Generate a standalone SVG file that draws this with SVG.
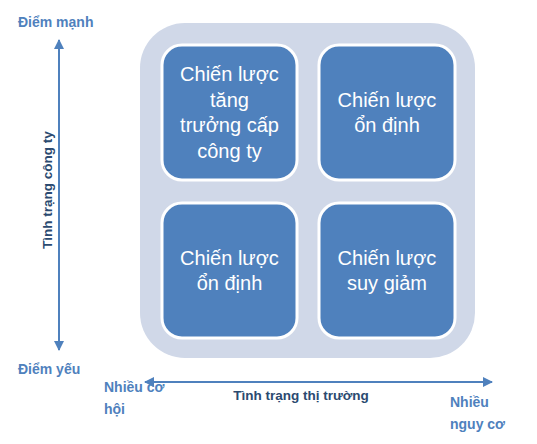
<svg xmlns="http://www.w3.org/2000/svg" width="537" height="444" viewBox="0 0 537 444">
<style>
.box{fill:#4F81BD;stroke:#FFFFFF;stroke-width:3}
.bt{font-family:"Liberation Sans",Arial,sans-serif;font-size:20px;fill:#FFFFFF;text-anchor:middle}
.lbl{font-family:"Liberation Sans",Arial,sans-serif;font-size:14px;font-weight:bold;fill:#4F81BD}
.ttl{font-family:"Liberation Sans",Arial,sans-serif;font-size:13.5px;font-weight:bold;fill:#2B4A70;text-anchor:middle}
.ax{stroke:#4F81BD;stroke-width:2;fill:none}
</style>
<defs>
<marker id="ah" viewBox="0 0 10 10" refX="9" refY="5" markerWidth="5" markerHeight="5" orient="auto-start-reverse" markerUnits="strokeWidth">
<path d="M0,0 L10,5 L0,10 z" fill="#4F81BD"/>
</marker>
</defs>
<rect width="537" height="444" fill="#FFFFFF"/>
<g id="background">
<rect x="140" y="23" width="335" height="335" rx="45" ry="45" fill="#D0D8E8"/>
</g>
<g id="connectors">
<line class="ax" x1="59" y1="350" x2="59" y2="40" marker-end="url(#ah)" marker-start="url(#ah)"/>
<line class="ax" x1="145" y1="382" x2="492" y2="382" marker-end="url(#ah)" marker-start="url(#ah)"/>
</g>
<g id="node-growth">
<rect class="box" x="162" y="45" width="135" height="135" rx="20" ry="20"/>
<text class="bt" x="229.5" y="81">Chiến lược</text>
<text class="bt" x="229.5" y="107">tăng</text>
<text class="bt" x="229.5" y="132">trưởng cấp</text>
<text class="bt" x="229.5" y="158">công ty</text>
</g>
<g id="node-stable-top">
<rect class="box" x="319" y="45" width="136" height="135" rx="20" ry="20"/>
<text class="bt" x="387" y="107">Chiến lược</text>
<text class="bt" x="387" y="132">ổn định</text>
</g>
<g id="node-stable-bottom">
<rect class="box" x="162" y="203" width="135" height="135" rx="20" ry="20"/>
<text class="bt" x="229.5" y="265">Chiến lược</text>
<text class="bt" x="229.5" y="290">ổn định</text>
</g>
<g id="node-decline">
<rect class="box" x="319" y="203" width="136" height="135" rx="20" ry="20"/>
<text class="bt" x="387" y="265">Chiến lược</text>
<text class="bt" x="387" y="290">suy giảm</text>
</g>
<g id="labels">
<text class="lbl" x="18" y="27">Điểm mạnh</text>
<text class="lbl" x="18" y="374">Điểm yếu</text>
<text class="lbl" x="104" y="392">Nhiều cơ</text>
<text class="lbl" x="104" y="414">hội</text>
<text class="lbl" x="450" y="407">Nhiều</text>
<text class="lbl" x="450" y="429">nguy cơ</text>
<text class="ttl" x="301" y="400">Tình trạng thị trường</text>
<text class="ttl" transform="translate(52,190) rotate(-90)" x="0" y="0">Tình trạng công ty</text>
</g>
</svg>
